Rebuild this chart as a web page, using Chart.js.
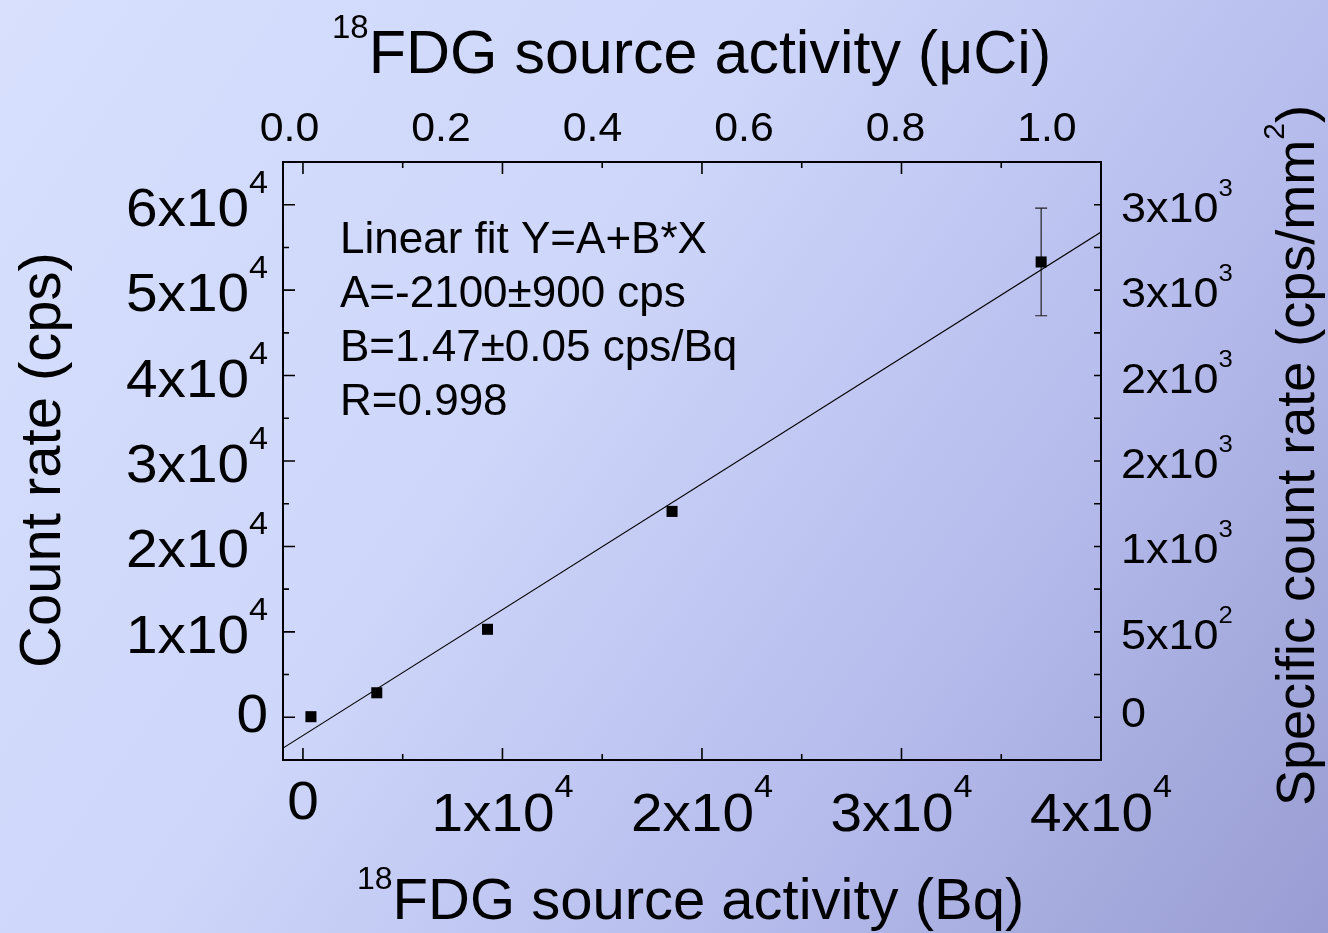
<!DOCTYPE html>
<html>
<head>
<meta charset="utf-8">
<script src="https://cdn.jsdelivr.net/npm/chart.js@4.4.1/dist/chart.umd.min.js"></script>
<style>
  html, body { margin: 0; padding: 0; background: #c8d0f6; }
  #wrap { width: 1328px; height: 933px; }
</style>
</head>
<body>
<div id="wrap"><canvas id="c" width="1328" height="933"></canvas></div>
<script>
// ---------------- data ----------------
const activityBq = [400, 3700, 9250, 18500, 37000];          // x values (Bq)
const countRate  = [70, 2870, 10300, 24100, 53300];           // y values (cps)
const countErr   = [0, 0, 0, 0, 6300];                         // y error (cps)

const fitX = [-1000, 40000];                                   // fit line ends (Bq)
const fitY = [-3600, 56800];                                   // fit line ends (cps)

const xTickValues  = [0, 10000, 20000, 30000, 40000];
const xTickLabels  = ['0', '1x10^4', '2x10^4', '3x10^4', '4x10^4'];
const xMinorTicks  = [5000, 15000, 25000, 35000];

const x2TickValues = [0.0, 0.2, 0.4, 0.6, 0.8, 1.0];
const x2TickLabels = ['0.0', '0.2', '0.4', '0.6', '0.8', '1.0'];

const yTickValues  = [0, 10000, 20000, 30000, 40000, 50000, 60000];
const yTickLabels  = ['0', '1x10^4', '2x10^4', '3x10^4', '4x10^4', '5x10^4', '6x10^4'];
const yMinorTicks  = [5000, 15000, 25000, 35000, 45000, 55000];

const y2TickValues = [0, 500, 1000, 1500, 2000, 2500, 3000];
const y2TickLabels = ['0', '5x10^2', '1x10^3', '2x10^3', '2x10^3', '3x10^3', '3x10^3'];
const y2MinorTicks = [250, 750, 1250, 1750, 2250, 2750];

const fitText = ['Linear fit Y=A+B*X', 'A=-2100\u00B1900 cps', 'B=1.47\u00B10.05 cps/Bq', 'R=0.998'];

const titleBottom = ['18', 'FDG source activity (Bq)'];
const titleTop    = ['18', 'FDG source activity (', '\u03BC', 'Ci)'];
const titleLeft   = 'Count rate (cps)';
const titleRight  = ['Specific count rate (cps/mm', '2', ')'];

// ---------------- drawing helpers ----------------
const FONT = "'Liberation Sans', Arial, Helvetica, sans-serif";

function drawSup(ctx, text, x, y, o) {
  const parts = text.split('^');
  const base = parts[0], sup = parts[1] || '';
  const sx = o.sx || 1;
  ctx.font = o.main + 'px ' + FONT;
  const wb = ctx.measureText(base).width * sx;
  let ws = 0;
  if (sup) { ctx.font = o.sup + 'px ' + FONT; ws = ctx.measureText(sup).width * sx; }
  const total = wb + ws;
  let x0 = x;
  if (o.align === 'right') x0 = x - total;
  else if (o.align === 'center') x0 = x - total / 2;
  ctx.save();
  ctx.textAlign = 'left';
  ctx.textBaseline = 'alphabetic';
  ctx.translate(x0, y);
  ctx.scale(sx, 1);
  ctx.font = o.main + 'px ' + FONT;
  ctx.fillText(base, 0, 0);
  if (sup) {
    ctx.font = o.sup + 'px ' + FONT;
    ctx.fillText(sup, wb / sx + (o.gap || 0), -o.rise);
  }
  ctx.restore();
}

const bgPlugin = {
  id: 'bg',
  beforeDraw(chart) {
    const { ctx, width, height } = chart;
    const g = ctx.createLinearGradient(0, 0, width, height);
    g.addColorStop(0.0, 'rgb(216,224,254)');
    g.addColorStop(0.4, 'rgb(206,214,250)');
    g.addColorStop(0.7, 'rgb(182,188,236)');
    g.addColorStop(1.0, 'rgb(152,156,210)');
    ctx.save();
    ctx.fillStyle = g;
    ctx.fillRect(0, 0, width, height);
    ctx.restore();
  }
};

const errPlugin = {
  id: 'errbars',
  beforeDatasetsDraw(chart) {
    const { ctx, scales: { x, y } } = chart;
    ctx.save();
    ctx.strokeStyle = '#222';
    ctx.lineWidth = 1.2;
    activityBq.forEach((v, i) => {
      const e = countErr[i];
      if (!e) return;
      const px = x.getPixelForValue(v);
      const top = y.getPixelForValue(countRate[i] + e);
      const bot = y.getPixelForValue(countRate[i] - e);
      ctx.beginPath();
      ctx.moveTo(px, top); ctx.lineTo(px, bot);
      ctx.moveTo(px - 6, top); ctx.lineTo(px + 6, top);
      ctx.moveTo(px - 6, bot); ctx.lineTo(px + 6, bot);
      ctx.stroke();
    });
    ctx.restore();
  }
};

const axisPlugin = {
  id: 'axisDecor',
  afterDraw(chart) {
    const { ctx, chartArea: a, scales: { x, x2, y, y2 } } = chart;
    ctx.save();
    ctx.strokeStyle = '#000';
    ctx.fillStyle = '#000';
    ctx.lineWidth = 1.6;
    ctx.beginPath();
    // bottom + top ticks (inward), mirrored
    xTickValues.forEach(v => {
      const p = x.getPixelForValue(v);
      ctx.moveTo(p, a.bottom); ctx.lineTo(p, a.bottom - 12);
      ctx.moveTo(p, a.top); ctx.lineTo(p, a.top + 12);
    });
    xMinorTicks.forEach(v => {
      const p = x.getPixelForValue(v);
      ctx.moveTo(p, a.bottom); ctx.lineTo(p, a.bottom - 6);
      ctx.moveTo(p, a.top); ctx.lineTo(p, a.top + 6);
    });
    // left ticks
    yTickValues.forEach(v => {
      const p = y.getPixelForValue(v);
      ctx.moveTo(a.left, p); ctx.lineTo(a.left + 12, p);
    });
    yMinorTicks.forEach(v => {
      const p = y.getPixelForValue(v);
      ctx.moveTo(a.left, p); ctx.lineTo(a.left + 6, p);
    });
    // right ticks
    y2TickValues.concat(y2MinorTicks).forEach(v => {
      const p = y2.getPixelForValue(v);
      ctx.moveTo(a.right, p); ctx.lineTo(a.right - 7, p);
    });
    ctx.stroke();

    // bottom tick labels
    xTickValues.forEach((v, i) => {
      const p = x.getPixelForValue(v);
      const t = xTickLabels[i];
      const hasSup = t.indexOf('^') >= 0;
      drawSup(ctx, t, p, hasSup ? 831 : 819, { align: 'center', main: 53, sup: 32, rise: 34, sx: 1.07 });
    });
    // top tick labels
    x2TickValues.forEach((v, i) => {
      const p = x2.getPixelForValue(v);
      drawSup(ctx, x2TickLabels[i], p, 141, { align: 'center', main: 40, sup: 24, rise: 20, sx: 1.07 });
    });
    // left tick labels
    yTickValues.forEach((v, i) => {
      const p = y.getPixelForValue(v);
      const t = yTickLabels[i];
      const hasSup = t.indexOf('^') >= 0;
      drawSup(ctx, t, 268, p + (hasSup ? 21 : 15), { align: 'right', main: 53, sup: 32, rise: 33, sx: 1.07 });
    });
    // right tick labels
    y2TickValues.forEach((v, i) => {
      const p = y2.getPixelForValue(v);
      const t = y2TickLabels[i];
      const hasSup = t.indexOf('^') >= 0;
      drawSup(ctx, t, 1121, p + (hasSup ? 17 : 10), { align: 'left', main: 42, sup: 24, rise: 26, sx: 1.07 });
    });

    // fit annotation
    ctx.font = '44px ' + FONT;
    ctx.textAlign = 'left';
    ctx.textBaseline = 'alphabetic';
    fitText.forEach((s, i) => ctx.fillText(s, 340, 253 + i * 54));

    // bottom title
    ctx.font = '32px ' + FONT;
    ctx.fillText(titleBottom[0], 357, 889);
    let w = ctx.measureText(titleBottom[0]).width;
    ctx.font = '58px ' + FONT;
    ctx.fillText(titleBottom[1], 357 + w, 919);

    // top title
    let cx = 332;
    ctx.font = '33px ' + FONT;
    ctx.fillText(titleTop[0], cx, 38);
    cx += ctx.measureText(titleTop[0]).width;
    ctx.font = '61px ' + FONT;
    ctx.fillText(titleTop[1], cx, 73);
    cx += ctx.measureText(titleTop[1]).width;
    ctx.fillText(titleTop[2], cx, 73);
    cx += ctx.measureText(titleTop[2]).width;
    ctx.fillText(titleTop[3], cx, 73);

    // left title (rotated)
    ctx.save();
    ctx.translate(60, 460);
    ctx.rotate(-Math.PI / 2);
    ctx.font = '58px ' + FONT;
    ctx.textAlign = 'center';
    ctx.fillText(titleLeft, 0, 0);
    ctx.restore();

    // right title (rotated)
    ctx.save();
    ctx.translate(1314, 806);
    ctx.rotate(-Math.PI / 2);
    ctx.textAlign = 'left';
    ctx.font = '54px ' + FONT;
    ctx.fillText(titleRight[0], 0, 0);
    let rx = ctx.measureText(titleRight[0]).width;
    ctx.font = '30px ' + FONT;
    ctx.fillText(titleRight[1], rx, -30);
    rx += ctx.measureText(titleRight[1]).width;
    ctx.font = '54px ' + FONT;
    ctx.fillText(titleRight[2], rx, 0);
    ctx.restore();

    ctx.restore();
  }
};

const axisBase = {
  type: 'linear',
  ticks: { display: false },
  grid: { display: false, drawTicks: false },
  border: { display: true, color: '#000', width: 2 }
};

new Chart(document.getElementById('c'), {
  type: 'scatter',
  data: {
    datasets: [
      {
        type: 'line',
        data: fitX.map((v, i) => ({ x: v, y: fitY[i] })),
        borderColor: '#000',
        borderWidth: 1.1,
        pointRadius: 0,
        fill: false
      },
      {
        type: 'scatter',
        data: activityBq.map((v, i) => ({ x: v, y: countRate[i] })),
        pointStyle: 'rect',
        pointRadius: 7.8,
        backgroundColor: '#000',
        borderColor: '#000',
        borderWidth: 0
      }
    ]
  },
  options: {
    responsive: false,
    animation: false,
    events: [],
    layout: { padding: { left: 283, top: 162, right: 227, bottom: 173 } },
    plugins: { legend: { display: false }, tooltip: { enabled: false } },
    scales: {
      x:  Object.assign({}, axisBase, { position: 'bottom', min: -1000, max: 40000 }),
      x2: Object.assign({}, axisBase, { position: 'top', min: -0.0086, max: 1.0714 }),
      y:  Object.assign({}, axisBase, { position: 'left', min: -5000, max: 65000 }),
      y2: Object.assign({}, axisBase, { position: 'right', min: -250, max: 3250 })
    }
  },
  plugins: [bgPlugin, errPlugin, axisPlugin]
});
</script>
</body>
</html>
